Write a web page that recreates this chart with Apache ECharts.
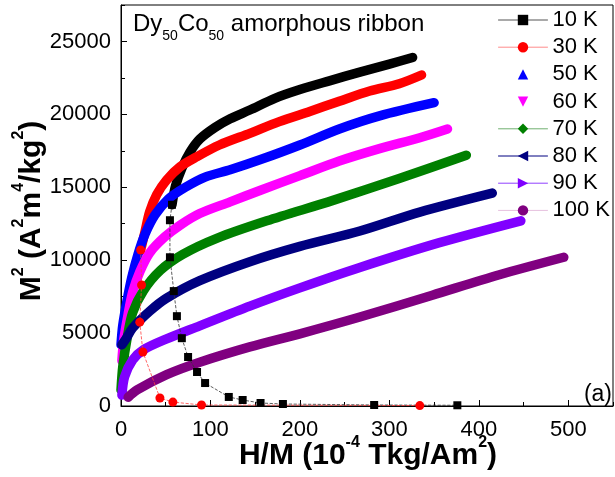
<!DOCTYPE html>
<html><head><meta charset="utf-8">
<script src="https://cdn.jsdelivr.net/npm/echarts@6/dist/echarts.min.js"></script>
<style>html,body{margin:0;padding:0;background:#fff}#c{width:615px;height:477px}</style>
</head><body><div id="c"></div>
<script>
// ---- data (H/M in 1e-4 Tkg/Am^2, M^2 in A^2m^4/kg^2) ----
const seriesNames = ['10 K','30 K','50 K','60 K','70 K','80 K','90 K','100 K'];
const xTickValues = [0,100,200,300,400,500];
const yTickValues = [0,5000,10000,15000,20000,25000];

const curve10K = [[57,13800],[61,15100],[68,16300],[77,17400],[88,18300],[105,19100],[122,19700],[144,20300],[172,21100],[200,21700],[233,22300],[267,22900],[300,23450],[326,23900]];
const curve30K = [[22,10700],[27,12000],[32,13300],[40,14500],[51,15500],[66,16400],[85,17100],[110,17900],[144,18700],[177,19500],[211,20200],[244,20900],[278,21600],[311,22100],[336,22700]];
const curve50K = [[0,4200],[2,5550],[7,7300],[12,8800],[19,10400],[27,11800],[38,13100],[53,14200],[72,15000],[94,15700],[122,16200],[156,16900],[200,17900],[244,19000],[289,19900],[350,20800]];
const curve60K = [[1,3100],[3,4500],[8,6300],[13,7800],[21,9200],[32,10500],[49,11600],[66,12400],[88,13200],[122,14000],[156,14800],[200,15800],[244,16800],[289,17650],[334,18400],[365,19000]];
const curve70K = [[0,1100],[2,2700],[7,4700],[13,6400],[25,7900],[44,9300],[69,10400],[107,11500],[163,12700],[237,14100],[311,15600],[386,17200]];
const curve80K = [[1,4200],[6,4650],[13,5350],[32,6500],[51,7400],[88,8600],[144,9900],[200,10950],[267,12000],[334,13300],[415,14600]];
const curve90K = [[1,750],[4,2000],[13,3150],[25,3850],[51,4600],[88,5500],[144,6850],[200,8100],[267,9500],[356,11200],[447,12700]];
const curve100K = [[8,600],[18,1100],[51,2150],[88,3000],[144,4050],[200,4950],[267,6100],[348,7600],[423,9000],[495,10200]];

const sparse10K = [[57,13800],[54.7,12740],[54.7,10200],[59,7880],[62.5,6160],[68,4650],[75,3360],[85,2330],[94,1575],[120.5,620],[136,410],[156,205],[181,137],[283,70],[376,50]];
const sparse30K = [[22,10700],[23,8300],[21,5750],[24.5,3700],[43.5,550],[58,270],[90,70],[334,30]];

// ---- styling ----
const curves = [curve10K,curve30K,curve50K,curve60K,curve70K,curve80K,curve90K,curve100K];
const colors = ['#000000','#ff0000','#0000ff','#ff00ff','#008000','#000080','#8000ff','#800080'];
const symbols = ['rect','circle','triangle','path://M0,0L10,0L5,10Z','diamond','path://M0,5L10,0L10,10Z','path://M0,0L10,5L0,10Z','circle'];
const legendLineColors = ['#555555','#ff8c8c','rgba(0,0,0,0)','rgba(0,0,0,0)','#70b070','#000080','#9040ff','#e6c0de'];
const FONT = "'Liberation Sans', Arial, sans-serif";

const series = curves.map((d,i)=>({
  name: seriesNames[i], type:'line', data:d, symbol:symbols[i], showSymbol:false,
  smooth:0.3, z:2, silent:true,
  lineStyle:{color:colors[i], width:9.5, cap:'round', join:'round'},
  itemStyle:{color:colors[i]}
}));
series.push({name:'10 K', type:'line', data:sparse10K, symbol:'rect', symbolSize:8, z:3, silent:true,
  lineStyle:{color:'#333', width:0.8, type:'dashed'}, itemStyle:{color:'#000'}});
series.push({name:'30 K', type:'line', data:sparse30K, symbol:'circle', symbolSize:9, z:3, silent:true,
  lineStyle:{color:'#ff4040', width:0.8, type:'dashed'}, itemStyle:{color:'#ff0000'}});

const axisCommon = {axisLine:{show:true,onZero:false,lineStyle:{color:'#000',width:1}}, splitLine:{show:false}};

const option = {
  animation:false,
  backgroundColor:'#ffffff',
  grid:{left:121,right:2,top:5,bottom:71,show:true,borderColor:'#000',borderWidth:1,containLabel:false,outerBoundsMode:'none'},
  xAxis:[
    Object.assign({type:'value',min:0,max:550,interval:100,position:'bottom',
      axisTick:{show:true,inside:true,length:6,lineStyle:{color:'#000'}},
      axisLabel:{color:'#000',fontSize:22,fontFamily:FONT,margin:13,showMaxLabel:false,
        formatter:v=>xTickValues.includes(v)?String(v):''}}, axisCommon),
    {type:'value',min:0,max:550,interval:50,position:'bottom',axisLine:{show:false},splitLine:{show:false},
      axisTick:{show:true,inside:true,length:4,lineStyle:{color:'#000'}},axisLabel:{show:false}}
  ],
  yAxis:[
    Object.assign({type:'value',min:0,max:27500,interval:5000,position:'left',
      axisTick:{show:true,inside:true,length:6,lineStyle:{color:'#000'}},
      axisLabel:{color:'#000',fontSize:22,fontFamily:FONT,margin:10,showMaxLabel:false,
        formatter:v=>yTickValues.includes(v)?String(v):''}}, axisCommon),
    {type:'value',min:0,max:27500,interval:2500,position:'left',axisLine:{show:false},splitLine:{show:false},
      axisTick:{show:true,inside:true,length:4,lineStyle:{color:'#000'}},axisLabel:{show:false}}
  ],
  legend:{
    orient:'vertical', left:498, top:9, padding:0, itemWidth:49, itemHeight:13, itemGap:5.2, selectedMode:false,
    textStyle:{fontSize:22,fontFamily:FONT,color:'#000',lineHeight:22},
    data: seriesNames.map((n,i)=>({name:n, lineStyle:{color:legendLineColors[i],width:1,type:'solid'}, itemStyle:{color:colors[i]}}))
  },
  graphic:[
    {type:'text', x:133, y:12, silent:true, style:{
      text:'{a|Dy}{s|50}{a|Co}{s|50}{a| amorphous ribbon}', fill:'#000',
      rich:{
        a:{fontSize:24,fontFamily:FONT,fill:'#000',lineHeight:25,verticalAlign:'top'},
        s:{fontSize:14,fontFamily:FONT,fill:'#000',lineHeight:14,padding:[17,0,0,0],verticalAlign:'top'}
      }}},
    {type:'text', x:612, y:395, silent:true, style:{text:'(a)', align:'right', verticalAlign:'middle',
      fontSize:23, fontFamily:FONT, fill:'#000'}},
    {type:'text', x:368, y:453, silent:true, style:{
      text:'{m|H/M (10}{p|-4}{m| Tkg/Am}{p|2}{m|)}', align:'center', verticalAlign:'middle', fill:'#000',
      rich:{
        m:{fontSize:30,fontWeight:'bold',fontFamily:FONT,fill:'#000',lineHeight:36,verticalAlign:'bottom'},
        p:{fontSize:16,fontWeight:'bold',fontFamily:FONT,fill:'#000',lineHeight:16,verticalAlign:'top'}
      }}},
    {type:'text', x:29, y:211, rotation:Math.PI/2, silent:true, style:{
      text:'{m|M}{p|2}{m| (A}{p|2}{m|m}{p|4}{m|/kg}{p|2}{m|)}', align:'center', verticalAlign:'middle', fill:'#000',
      rich:{
        m:{fontSize:30,fontWeight:'bold',fontFamily:FONT,fill:'#000',lineHeight:36,verticalAlign:'bottom'},
        p:{fontSize:16,fontWeight:'bold',fontFamily:FONT,fill:'#000',lineHeight:16,verticalAlign:'top'}
      }}}
  ],
  series: series
};
const chart = echarts.init(document.getElementById('c'), null, {renderer:'canvas'});
chart.setOption(option);
</script></body></html>
